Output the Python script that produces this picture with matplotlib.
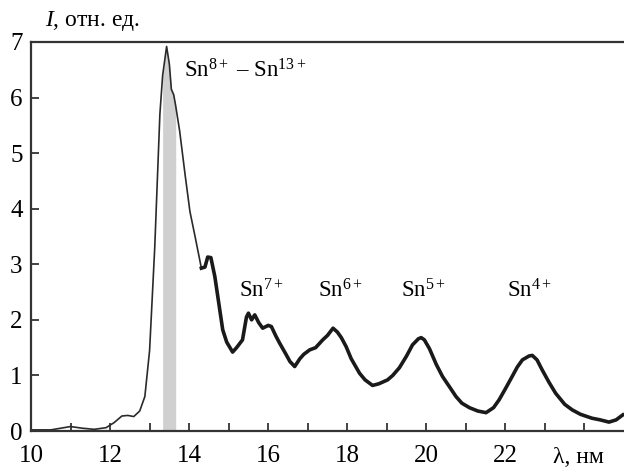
import numpy as np
import matplotlib
matplotlib.use("Agg")
import matplotlib.pyplot as plt
import matplotlib.transforms as mtransforms

plt.rcParams['font.family'] = ['Liberation Serif', 'DejaVu Serif']
plt.rcParams['mathtext.fontset'] = 'custom'
plt.rcParams['mathtext.rm'] = 'Liberation Serif'
plt.rcParams['mathtext.it'] = 'Liberation Serif:italic'

wavelength = [10.0, 10.5, 11.0, 11.3, 11.6, 11.9, 12.1, 12.3, 12.45, 12.6, 12.75, 12.88,
              13.0, 13.13, 13.26, 13.33, 13.43, 13.5, 13.55, 13.61, 13.66, 13.76, 13.9,
              14.02, 14.15, 14.31, 14.4, 14.47, 14.55, 14.65, 14.75, 14.85, 14.95, 15.1,
              15.2, 15.35, 15.45, 15.5, 15.58, 15.66, 15.76, 15.86, 16.0, 16.08, 16.2,
              16.29, 16.45, 16.55, 16.67, 16.8, 16.9, 17.05, 17.2, 17.38, 17.5, 17.64,
              17.75, 17.85, 17.97, 18.1, 18.31, 18.45, 18.64, 18.8, 19.02, 19.15, 19.32,
              19.5, 19.65, 19.8, 19.87, 19.95, 20.08, 20.25, 20.41, 20.6, 20.75, 20.9,
              21.09, 21.3, 21.51, 21.7, 21.84, 22.0, 22.17, 22.3, 22.43, 22.6, 22.68,
              22.8, 22.93, 23.1, 23.27, 23.5, 23.69, 23.9, 24.19, 24.4, 24.62, 24.8, 24.97]
intensity = [0.02, 0.02, 0.08, 0.05, 0.03, 0.06, 0.15, 0.27, 0.28, 0.26, 0.36, 0.62,
             1.45, 3.3, 5.7, 6.4, 6.92, 6.6, 6.15, 6.05, 5.85, 5.4, 4.6,
             3.95, 3.5, 2.93, 2.95, 3.13, 3.12, 2.78, 2.3, 1.82, 1.6, 1.42,
             1.5, 1.64, 2.05, 2.12, 2.0, 2.09, 1.95, 1.85, 1.9, 1.88, 1.7,
             1.58, 1.38, 1.25, 1.16, 1.3, 1.38, 1.46, 1.5, 1.64, 1.72, 1.85,
             1.78, 1.68, 1.52, 1.3, 1.04, 0.92, 0.82, 0.85, 0.92, 1.0, 1.14,
             1.35, 1.55, 1.66, 1.68, 1.64, 1.48, 1.2, 0.98, 0.78, 0.62, 0.5,
             0.42, 0.36, 0.33, 0.42, 0.56, 0.76, 0.98, 1.15, 1.28, 1.35, 1.36,
             1.28, 1.1, 0.88, 0.68, 0.48, 0.38, 0.3, 0.23, 0.2, 0.16, 0.2, 0.29]
band = (13.33, 13.66)
x_ticks = [10, 12, 14, 16, 18, 20, 22]
y_ticks = [0, 1, 2, 3, 4, 5, 6, 7]
labels = [(13.88, 6.37, r'Sn$^{8+}$ – Sn$^{13+}$'),
          (15.25, 2.41, r'Sn$^{7+}$'),
          (17.25, 2.41, r'Sn$^{6+}$'),
          (19.35, 2.41, r'Sn$^{5+}$'),
          (22.05, 2.41, r'Sn$^{4+}$')]

x = np.array(wavelength)
y = np.array(intensity)

fig = plt.figure(figsize=(6.24, 4.72), dpi=100)
ax = fig.add_axes([31/624, 1-431/472, 1-31/624, (431-42)/472])

m = (x >= band[0]) & (x <= band[1])
ax.fill_between(x[m], 0, y[m], color='#d0d0d0', lw=0, zorder=1)
ax.plot(x, y, color='#2a2a2a', lw=1.2, zorder=2)
mn = x >= 14.31
ax.plot(x[mn], y[mn], color='#1a1a1a', lw=2.6, zorder=2, solid_joinstyle='round')

ax.set_xlim(10, 25)
ax.set_ylim(0, 7)
ax.set_xticks(np.arange(10, 25, 1), minor=False)
ax.set_xticklabels([str(v) if v in x_ticks else '' for v in range(10, 25)])
ax.set_yticks(y_ticks)
ax.set_yticklabels([str(v) for v in y_ticks])
ax.tick_params(direction='in', length=6, width=1.2, color='#222222',
               labelsize=18)
ax.tick_params(axis='x', pad=10)
ax.tick_params(axis='y', pad=6)
for s in ['right']:
    ax.spines[s].set_visible(False)
for s in ['left', 'bottom', 'top']:
    ax.spines[s].set_linewidth(1.6)
    ax.spines[s].set_color('#333333')

for lx, ly, t in labels:
    ax.text(lx, ly, t, fontsize=16.5, ha='left', va='baseline')

trans = mtransforms.blended_transform_factory(ax.transData, ax.transAxes)
ax.text(23.85, -0.04, 'λ, нм', transform=trans, fontsize=17, ha='center', va='top')
fig.text(45/624, 1-26/472, r'$I$, отн. ед.', fontsize=17, ha='left', va='baseline')

fig.savefig('out.png', dpi=100)
